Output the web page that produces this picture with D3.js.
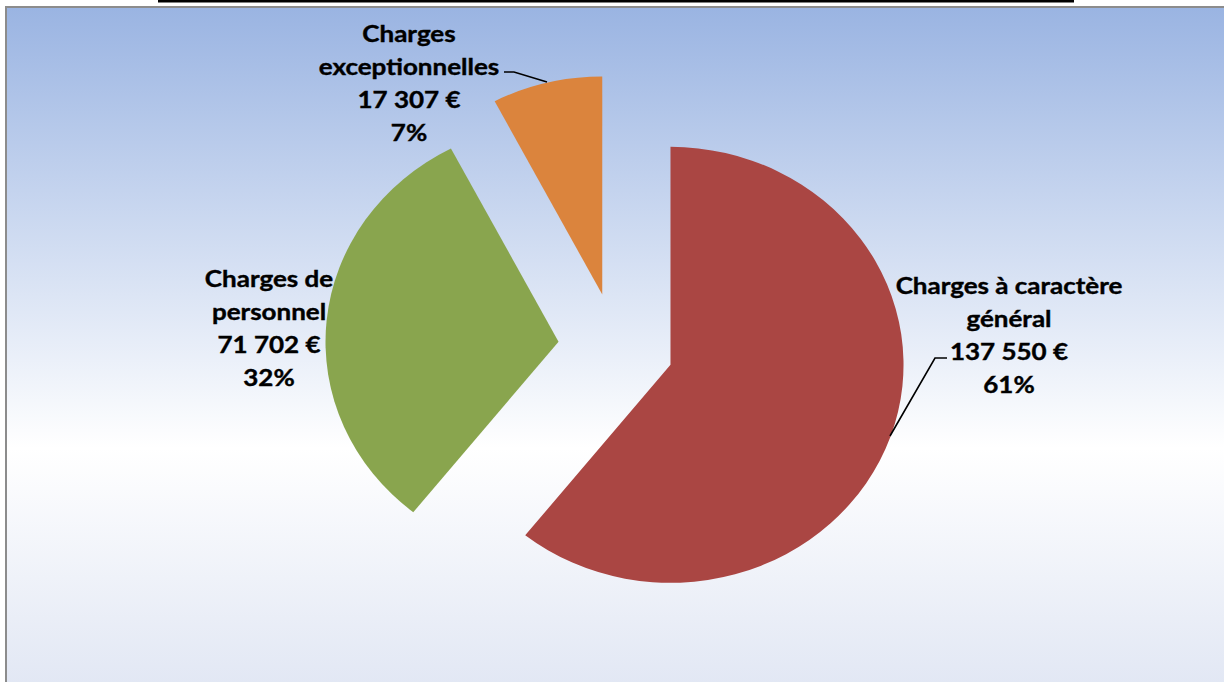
<!DOCTYPE html>
<meta charset="utf-8">
<html>
<head>
<style>
  body { margin: 0; background: #fff; }
  svg text { font-family: Lato, "Open Sans", sans-serif; font-weight: bold; fill: #000; }
</style>
</head>
<body>
<div id="chartContainer"></div>
<script src="https://cdn.jsdelivr.net/npm/d3@7"></script>
<script>
    // data
    var categories = ["Charges à caractère général", "Charges de personnel", "Charges exceptionnelles"];
    var amounts = [137550, 71702, 17307];
    var percentLabels = ["61%", "32%", "7%"];
    var labelLines = [
        ["Charges à caractère", "général"],
        ["Charges de", "personnel"],
        ["Charges", "exceptionnelles"]
    ];
    var colors = ["#AA4643", "#89A54E", "#DB843D"];

    var width = 1224, height = 682;
    var svg = d3.select("#chartContainer").append("svg")
        .attr("width", width)
        .attr("height", height);

    // background gradient
    var grad = svg.append("defs").append("linearGradient")
        .attr("id", "bg")
        .attr("x1", 0).attr("y1", 0).attr("x2", 0).attr("y2", 1);
    grad.append("stop").attr("offset", 0).attr("stop-color", "#9AB4E2");
    grad.append("stop").attr("offset", 0.63).attr("stop-color", "#FFFFFF");
    grad.append("stop").attr("offset", 1).attr("stop-color", "#DFE5F3");

    svg.append("rect")
        .attr("x", 6).attr("y", 7)
        .attr("width", 1240).attr("height", 700)
        .attr("fill", "url(#bg)")
        .attr("stroke", "#8C8C8C")
        .attr("stroke-width", 2);

    // black rule at the very top
    svg.append("rect")
        .attr("x", 158).attr("y", 0)
        .attr("width", 916).attr("height", 2.5)
        .attr("fill", "#000");

    // pie (the source is stretched a little horizontally)
    var cx = 616, cy = 347, r = 218, sx = 1.069, explode = 54;
    var pie = d3.pie().sort(null).value(function (d) { return d; });
    var arc = d3.arc().innerRadius(0).outerRadius(r);
    var slices = pie(amounts);

    var g = svg.append("g")
        .attr("transform", "translate(" + cx + "," + cy + ") scale(" + sx + ",1)");

    g.selectAll("path")
        .data(slices)
        .enter()
        .append("path")
            .attr("d", arc)
            .attr("fill", function (d, i) { return colors[i]; })
            .attr("transform", function (d) {
                var a = (d.startAngle + d.endAngle) / 2;
                return "translate(" + (Math.sin(a) * explode) + "," + (-Math.cos(a) * explode) + ")";
            });

    // labels
    var fmt = function (v) { return d3.format(",")(v).replace(/,/g, " ") + " €"; };
    var labelPos = [[1009, 294], [269, 287], [409, 42]];
    var lineH = 33;

    slices.forEach(function (d, i) {
        var lines = labelLines[i].concat([fmt(amounts[i]), percentLabels[i]]);
        var lg = svg.append("g")
            .attr("transform", "translate(" + labelPos[i][0] + "," + labelPos[i][1] + ") scale(1.13,1)");
        lg.selectAll("text")
            .data(lines)
            .enter()
            .append("text")
                .attr("x", 0)
                .attr("y", function (t, j) { return j * lineH; })
                .attr("text-anchor", "middle")
                .style("font-size", "23px")
                .style("stroke", "#000")
                .style("stroke-width", 0.4)
                .text(function (t) { return t; });
    });

    // leader lines
    var leaders = [
        [[890, 436], [935, 358], [947, 358]],
        [[504, 72], [514, 72], [547, 82]]
    ];
    svg.selectAll("path.leader")
        .data(leaders)
        .enter()
        .append("path")
            .attr("class", "leader")
            .attr("d", d3.line())
            .attr("fill", "none")
            .attr("stroke", "#000")
            .attr("stroke-width", 1.6);
</script>
</body>
</html>
